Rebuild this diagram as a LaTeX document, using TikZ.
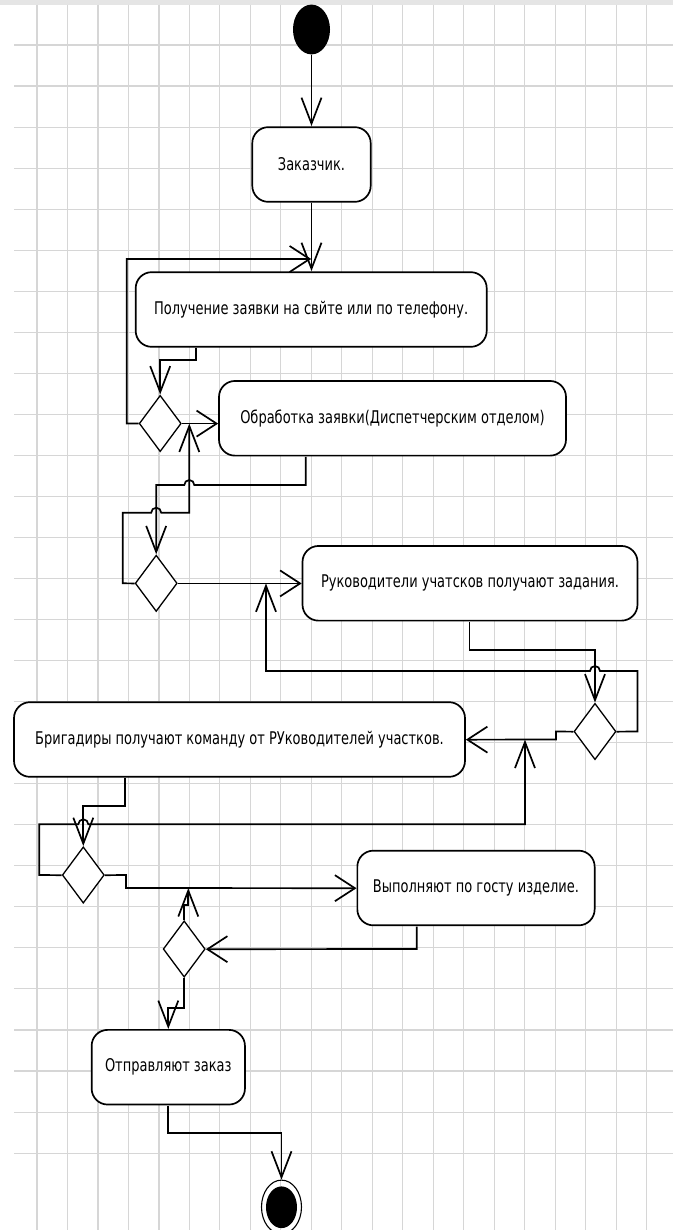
\documentclass[tikz,border=0pt]{standalone}
\usepackage{fontspec}
\setmainfont{DejaVu Sans}
\usetikzlibrary{arrows.meta,shapes.geometric}
\begin{document}
\begin{tikzpicture}[x=1pt, y=-0.743218pt, yscale=1.3455,
  every node/.append style={transform shape},
  gridline/.style={draw=black!16, line width=1.1pt},
  actbox/.style={draw, line width=1.7pt, rounded corners=16pt, minimum height=55.5pt,
    inner sep=0pt, fill=white, font=\fontsize{13}{15}\selectfont},
  dec/.style={diamond, draw, line width=1.3pt, minimum width=42pt, minimum height=42pt,
    inner sep=0pt, fill=white},
  flow/.style={line width=1.7pt, line join=miter},
  av/.style={-{Straight Barb[length=26pt,width=20pt]}},
  ah/.style={-{Straight Barb[length=20pt,width=26pt]}},
]
\useasboundingbox[fill=white] (0,0) rectangle (673,1230);
\fill[black!10] (0,0) rectangle (673,5);
% grid
\foreach \k in {0,...,20} \draw[gridline] ({37+30.49*\k},5) -- ({37+30.49*\k},1230);
\foreach \k in {1,...,28} \draw[gridline] (14,{3.96+41.04*\k}) -- (673,{3.96+41.04*\k});

% nodes
\node[circle, fill=black, minimum size=37pt, inner sep=0pt] (init) at (311.5,29.5) {};
\node[actbox, minimum width=118.4pt] (A) at (311.5,164.5) {Заказчик.};
\node[actbox, minimum width=351pt] (B) at (311.2,309.5) {Получение заявки на свйте или по телефону.};
\node[dec] (D1) at (160.2,423.5) {};
\node[actbox, minimum width=347pt] (C) at (392.5,418.3) {Обработка заявки(Диспетчерским отделом)};
\node[dec] (D2) at (156.2,583.3) {};
\node[actbox, minimum width=335pt] (D) at (470,583.3) {Руководители учатсков получают задания.};
\node[dec] (D3) at (595,731.5) {};
\node[actbox, minimum width=451pt] (E) at (239.5,739.5) {Бригадиры получают команду от РУководителей участков.};
\node[dec] (D4) at (83.3,875) {};
\node[actbox, minimum width=237.3pt] (F) at (476,888) {Выполняют по госту изделие.};
\node[dec] (D5) at (184.2,949) {};
\node[actbox, minimum width=153.3pt] (G) at (168.3,1067.2) {Отправляют заказ};
\node[circle, draw, line width=1.1pt, minimum size=40pt, inner sep=0pt] (final) at (281.5,1207) {};
\node[circle, fill=black, minimum size=31pt, inner sep=0pt] (finalin) at (final.center) {};

% connectors
\draw[flow, av] (init.south) -- (A.north);
\draw[flow, av] (A.south) -- (A.south |- B.north);
\draw[flow, av] (B.south -| 195.7,0) -- (195.7,360) -- (160.2,360) -- (D1.north);
\draw[flow, ah] (D1.west) -- (126.7,423.5) -- (126.7,259) -- (B.north |- 0,259);
\draw[flow, ah] (D1.east) -- (D1.east -| C.west);
\draw[flow, av] (C.south -| 305.7,0) -- (305.7,485) -- (194.3,485)
   arc[start angle=0, end angle=-180, radius=5] -- (D2.north |- 0,485) -- (D2.north);
\draw[flow, av] (D2.west) -- (122.7,583.3) -- (122.7,512.7) -- (151.2,512.7)
   arc[start angle=180, end angle=360, radius=5] -- (189.3,512.7) -- (D1.east -| 189.3,0);
\draw[flow, ah] (D2.east) -- (D2.east -| D.west);
\draw[flow, av] (D.south -| 469.6,0) -- (469.6,650) -- (595,650) -- (D3.north);
\draw[flow, av] (D3.east) -- (637.5,731.5) -- (637.5,671) -- (600,671)
   arc[start angle=0, end angle=-180, radius=5] -- (266,671) -- (D2.east -| 266,0);
\draw[flow, ah] (D3.west) -- (556,731.5) -- (556,739.5) -- (E.east);
\draw[flow, av] (D4.west) -- (39.3,875) -- (39.3,824.3) -- (78.3,824.3)
   arc[start angle=180, end angle=360, radius=5] -- (525,824.3) -- (E.east -| 525,0);
\draw[flow, av] (E.south -| 125,0) -- (125,806) -- (83.3,806) -- (D4.north);
\draw[flow, ah] (D4.east) -- (126,875) -- (126,888) -- (F.west);
\draw[flow, av] (D5.north) -- (184.2,905) -- (188.3,905) -- (F.west -| 188.3,0);
\draw[flow, ah] (F.south -| 416.7,0) -- (416.7,949) -- (D5.east);
\draw[flow, av] (D5.south) -- (184.2,1008.3) -- (168.3,1008.3) -- (G.north);
\draw[flow, av] (G.south) -- (168.3,1133.3) -- (281.5,1133.3) -- (final.north);
\end{tikzpicture}
\end{document}
